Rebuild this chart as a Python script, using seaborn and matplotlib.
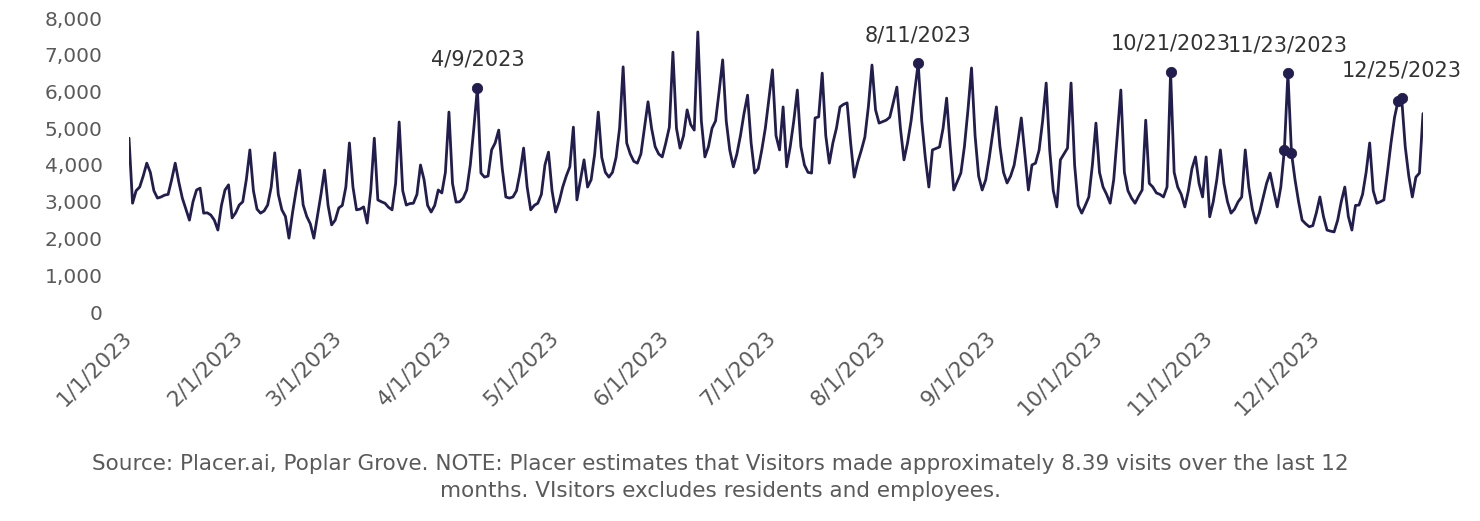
import pandas as pd
import matplotlib.pyplot as plt
import seaborn as sns

##############################################
### DATA (daily visitors, 2023) ##############
##############################################

jan_visits = [4730, 2960, 3300, 3400, 3700, 4050, 3800, 3300, 3100, 3130, 3180, 3200, 3600, 4050,
              3540, 3100, 2800, 2500, 3000, 3320, 3370, 2690, 2700, 2640, 2500, 2230, 2900, 3320,
              3460, 2560, 2700]
feb_visits = [2910, 3000, 3600, 4410, 3300, 2800, 2690, 2750, 2910, 3400, 4330, 3200, 2780, 2600,
              2010, 2700, 3300, 3860, 2910, 2600, 2400, 2010, 2600, 3200, 3860, 2900, 2370, 2500]
mar_visits = [2830, 2900, 3400, 4600, 3400, 2780, 2800, 2860, 2420, 3300, 4730, 3050, 3000, 2960,
              2850, 2780, 3500, 5170, 3300, 2910, 2950, 2960, 3200, 4000, 3600, 2900, 2720, 2900,
              3320, 3240, 3800]
apr_visits = [5440, 3500, 2990, 3000, 3100, 3320, 4000, 5000, 6100, 3780, 3670, 3700, 4410, 4600,
              4950, 3900, 3130, 3100, 3130, 3300, 3800, 4460, 3400, 2780, 2900, 2960, 3200, 4000,
              4350, 3300]
may_visits = [2720, 3000, 3400, 3700, 3950, 5030, 3050, 3600, 4140, 3400, 3600, 4300, 5440, 4200,
              3800, 3670, 3800, 4200, 5000, 6670, 4600, 4300, 4100, 4050, 4300, 5000, 5720, 5000,
              4500, 4300, 4220]
jun_visits = [4600, 5030, 7070, 5000, 4460, 4800, 5500, 5100, 4950, 7620, 5200, 4220, 4500, 5000,
              5200, 6000, 6860, 5200, 4400, 3950, 4300, 4800, 5400, 5900, 4600, 3780, 3900, 4410,
              5000, 5800]
jul_visits = [6590, 4800, 4410, 5580, 3950, 4500, 5200, 6040, 4500, 4000, 3800, 3780, 5280, 5310,
              6500, 4800, 4050, 4600, 5000, 5580, 5650, 5690, 4600, 3670, 4080, 4400, 4760, 5600,
              6720, 5500, 5140]
aug_visits = [5180, 5220, 5300, 5700, 6120, 5000, 4140, 4600, 5200, 6000, 6770, 5200, 4200, 3400,
              4410, 4450, 4490, 5000, 5820, 4500, 3320, 3550, 3780, 4500, 5500, 6640, 4800, 3700,
              3320, 3600, 4200]
sep_visits = [4900, 5580, 4500, 3800, 3510, 3700, 4000, 4600, 5280, 4300, 3320, 4000, 4050, 4400,
              5200, 6230, 4400, 3300, 2860, 4140, 4300, 4460, 6230, 4000, 2900, 2690, 2900, 3130,
              4000, 5140]
oct_visits = [3800, 3400, 3200, 2960, 3600, 4800, 6040, 3800, 3300, 3100, 2960, 3150, 3320, 5220,
              3500, 3400, 3240, 3200, 3130, 3400, 6530, 3800, 3400, 3200, 2860, 3300, 3900, 4220,
              3500, 3130, 4220]
nov_visits = [2590, 3000, 3600, 4410, 3500, 3000, 2690, 2800, 3000, 3130, 4410, 3400, 2800, 2420,
              2700, 3100, 3500, 3780, 3300, 2860, 3400, 4410, 6500, 4330, 3600, 3000, 2500, 2400,
              2320, 2350]
dec_visits = [2700, 3130, 2600, 2230, 2200, 2180, 2500, 3000, 3400, 2600, 2230, 2900, 2910, 3200,
              3800, 4600, 3300, 2960, 3000, 3050, 3800, 4600, 5300, 5750, 5820, 4500, 3700, 3130,
              3670, 3780, 5400]

# Labelled peaks and extra highlighted days
labelled_days = ["2023-04-09", "2023-08-11", "2023-10-21", "2023-11-23", "2023-12-25"]
label_texts = ["4/9/2023", "8/11/2023", "10/21/2023", "11/23/2023", "12/25/2023"]
extra_marked_days = ["2023-11-22", "2023-11-24", "2023-12-24"]

tick_labels = [f"{m}/1/2023" for m in range(1, 13)]
y_ticks = [0, 1000, 2000, 3000, 4000, 5000, 6000, 7000, 8000]

caption = ("Source: Placer.ai, Poplar Grove. NOTE: Placer estimates that Visitors made approximately "
           "8.39 visits over the last 12\nmonths. VIsitors excludes residents and employees.")

##############################################
### BUILD DATAFRAME ##########################
##############################################

visits = (jan_visits + feb_visits + mar_visits + apr_visits + may_visits + jun_visits +
          jul_visits + aug_visits + sep_visits + oct_visits + nov_visits + dec_visits)
df = pd.DataFrame({"Date": pd.date_range("2023-01-01", "2023-12-31", freq="D"), "Visits": visits})
df = df.set_index("Date", drop=False)

##############################################
### PLOT #####################################
##############################################

sns.set_style("white")
plt.rcParams["font.family"] = ["DejaVu Sans"]

line_color = "#211d4e"
text_color = "#5a5a5a"

fig = plt.figure(figsize=(14.8, 5.21), dpi=100)
ax = fig.add_axes([129 / 1480, 1 - 312 / 521, (1423 - 129) / 1480, (312 - 18) / 521])

sns.lineplot(data=df, x="Date", y="Visits", ax=ax, color=line_color, linewidth=2.0)

# Markers on highlighted days
marked = df.loc[pd.to_datetime(labelled_days + extra_marked_days)]
sns.scatterplot(data=marked, x="Date", y="Visits", ax=ax, color=line_color, s=55,
                edgecolor=line_color, zorder=5, legend=False)

# Labels above peaks
for day, txt in zip(labelled_days, label_texts):
    ts = pd.Timestamp(day)
    ax.annotate(txt, (ts, df.loc[ts, "Visits"]), xytext=(0, 13), textcoords="offset points",
                ha="center", va="bottom", fontsize=15, color="#333333")

# Axes
ax.set_ylim(0, 8000)
ax.set_xlim(pd.Timestamp("2023-01-01"), pd.Timestamp("2023-12-31"))
ax.set_yticks(y_ticks)
ax.set_yticklabels([f"{v:,}" for v in y_ticks], fontsize=14.5, color=text_color)
ax.set_xticks(pd.date_range("2023-01-01", periods=12, freq="MS"))
ax.set_xticklabels(tick_labels, rotation=45, ha="right", va="center", rotation_mode="anchor",
                   fontsize=15.5, color=text_color)
ax.tick_params(axis="y", length=0, pad=19)
ax.tick_params(axis="x", length=0, pad=16)
ax.set_xlabel("")
ax.set_ylabel("")
ax.grid(False)
sns.despine(ax=ax, left=True, bottom=True)

fig.text(0.487, 0.083, caption, ha="center", va="center", fontsize=15.5,
         color=text_color, linespacing=1.45)

fig.savefig("out.png", dpi=100)
plt.close("all")
